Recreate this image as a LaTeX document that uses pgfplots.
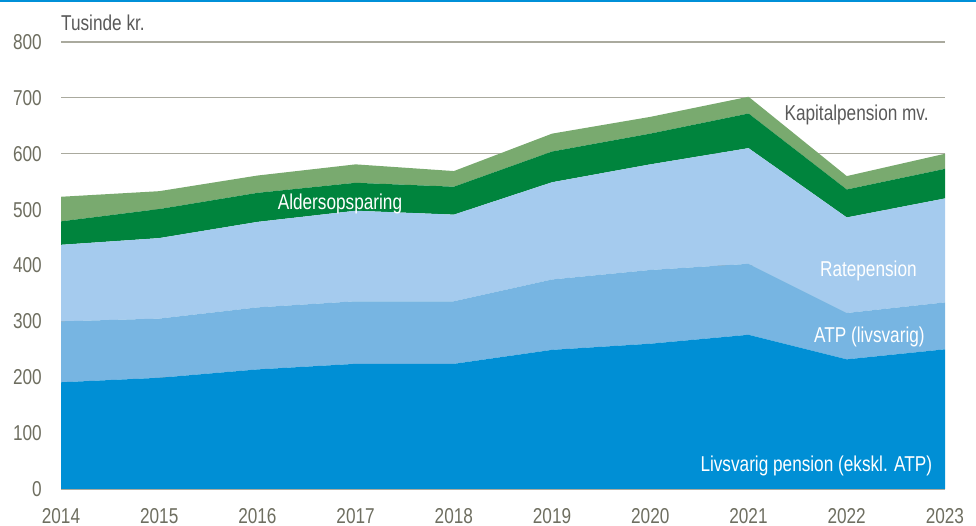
\documentclass[border=0pt]{standalone}
\usepackage{fontspec}
\setmainfont[FakeStretch=0.8]{Liberation Sans}
\usepackage{pgfplots}
\pgfplotsset{compat=1.18}
\definecolor{c1}{HTML}{008FD5}
\definecolor{c2}{HTML}{77B5E2}
\definecolor{c3}{HTML}{A5CBEE}
\definecolor{c4}{HTML}{00843D}
\definecolor{c5}{HTML}{79AA6F}
\definecolor{tickc}{HTML}{6E6E60}
\definecolor{gridc}{HTML}{AAAA9E}
\definecolor{titlec}{HTML}{595959}
\definecolor{topblue}{HTML}{0090D8}
\begin{document}
\begin{tikzpicture}
\fontsize{21.5pt}{25pt}\selectfont
\begin{axis}[
  at={(61pt,37pt)}, anchor=south west,
  scale only axis, width=884pt, height=447pt,
  xmin=2014, xmax=2023, ymin=0, ymax=800,
  xtick={2014,...,2023}, ytick={0,100,...,800},
  axis line style={draw=none},
  major tick length=0pt,
  ymajorgrids, grid style={color=gridc, line width=1.2pt},
  /pgf/number format/assume math mode=true,
  /pgf/number format/1000 sep={},
  ticklabel style={font=\fontsize{21.5pt}{25pt}\selectfont, color=tickc, inner sep=0pt},
  yticklabel style={anchor=east, xshift=-19pt},
  xticklabel style={anchor=north, yshift=-19pt},
  stack plots=y,
  every axis plot/.append style={draw=none},
  clip=false,
]
\addplot[fill=c1] coordinates {(2014,191) (2015,199) (2016,214) (2017,224) (2018,224) (2019,249) (2020,260) (2021,276) (2022,232) (2023,250)} \closedcycle;
\addplot[fill=c2] coordinates {(2014,109) (2015,106) (2016,111) (2017,112) (2018,112) (2019,126) (2020,132) (2021,127) (2022,83) (2023,84)} \closedcycle;
\addplot[fill=c3] coordinates {(2014,137) (2015,144) (2016,153) (2017,162) (2018,155) (2019,174) (2020,189) (2021,207) (2022,171) (2023,186)} \closedcycle;
\addplot[fill=c4] coordinates {(2014,42) (2015,52) (2016,52) (2017,50) (2018,50) (2019,55) (2020,55) (2021,62) (2022,50) (2023,53)} \closedcycle;
\addplot[fill=c5] coordinates {(2014,44) (2015,32) (2016,31) (2017,33) (2018,28) (2019,32) (2020,30) (2021,30) (2022,24) (2023,27)} \closedcycle;
\coordinate (lA) at (axis cs:2016.84,511);
\coordinate (lK) at (axis cs:2022.10,669);
\coordinate (lR) at (axis cs:2022.22,391);
\coordinate (lT) at (axis cs:2022.23,273);
\coordinate (lL) at (axis cs:2021.69,40.5);
\coordinate (lU) at (axis cs:2014,820);
\end{axis}
\node[white] at (lA) {Aldersopsparing};
\node[titlec] at (lK) {Kapitalpension mv.};
\node[white] at (lR) {Ratepension};
\node[white] at (lT) {ATP (livsvarig)};
\node[white] at (lL) {Livsvarig pension (ekskl. ATP)};
\node[titlec, anchor=base west, inner sep=0pt] at (lU) {Tusinde kr.};
\draw[topblue, line width=2.2pt] (0,525pt) -- (976pt,525pt);
\pgfresetboundingbox
\path (0,0) rectangle (976pt,526pt);
\end{tikzpicture}
\end{document}
